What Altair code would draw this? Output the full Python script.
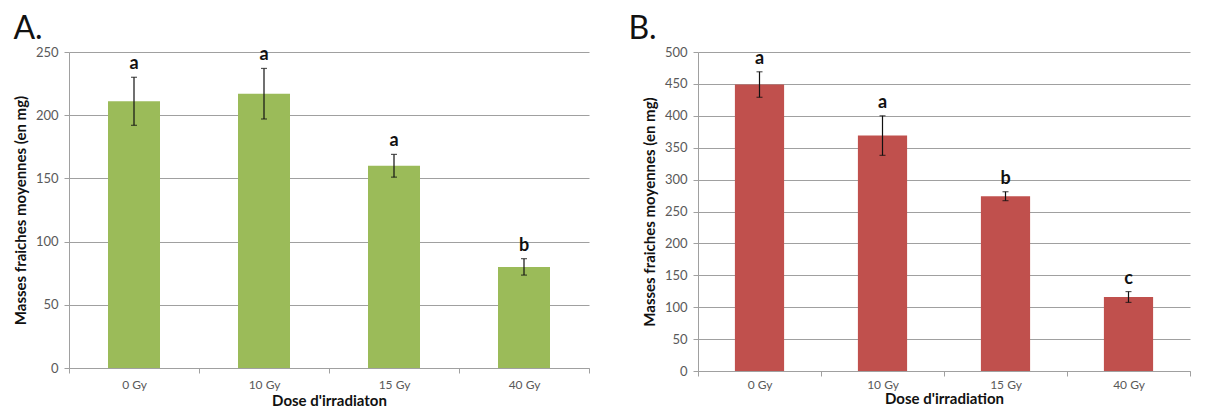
import altair as alt
import pandas as pd

doses = ["0 Gy", "10 Gy", "15 Gy", "40 Gy"]

mean_a = [211, 217, 160, 80]
err_a = [19, 20, 9, 6.5]
letters_a = ["a", "a", "a", "b"]
ticks_a = [0, 50, 100, 150, 200, 250]

mean_b = [449, 369, 274, 116]
err_b = [20, 31, 7, 8.5]
letters_b = ["a", "a", "b", "c"]
ticks_b = [0, 50, 100, 150, 200, 250, 300, 350, 400, 450, 500]

FONT = "Lato"
GRID = "#a0a0a0"
LABEL = "#595959"


def panel(mean, err, letters, ticks, color, xtitle, title, width, height, title_dx,
          xlabel_pad, xtitle_pad):
    df = pd.DataFrame({
        "dose": doses,
        "mean": mean,
        "lo": [m - e for m, e in zip(mean, err)],
        "hi": [m + e for m, e in zip(mean, err)],
        "letter": letters,
    })
    yscale = alt.Scale(domain=[ticks[0], ticks[-1]], nice=False)
    xscale = alt.Scale(paddingInner=0, paddingOuter=0)
    xaxis = alt.Axis(title=xtitle, tickBand="extent", labelAngle=0, grid=False,
                     domainColor=GRID, tickColor=GRID, tickSize=5,
                     labelColor=LABEL, labelFontSize=12, labelPadding=xlabel_pad,
                     titleFontSize=15, titleFontWeight="bold", titleColor="#111111",
                     titlePadding=xtitle_pad)
    yaxis = alt.Axis(title="Masses fraiches moyennes (en mg)", values=ticks,
                     labelOverlap=False,
                     grid=True, gridColor=GRID, gridWidth=1,
                     domainColor=GRID, tickColor=GRID, tickSize=5,
                     labelColor=LABEL, labelFontSize=13, labelPadding=6,
                     titleFontSize=15, titleFontWeight="bold", titleColor="#111111",
                     titlePadding=7)
    xc = alt.X("dose:N", sort=doses, scale=xscale, axis=xaxis)
    base = alt.Chart(df)
    bars = base.mark_bar(color=color, width=alt.RelativeBandSize(0.4)).encode(
        x=xc, y=alt.Y("mean:Q", scale=yscale, axis=yaxis))
    rule = base.mark_rule(color="#111111", strokeWidth=1.2).encode(
        x=xc, y=alt.Y("lo:Q", scale=yscale, axis=yaxis), y2="hi:Q")
    cap_hi = base.mark_tick(color="#111111", size=6, thickness=1.2).encode(
        x=xc, y=alt.Y("hi:Q", scale=yscale, axis=yaxis))
    cap_lo = base.mark_tick(color="#111111", size=6, thickness=1.2).encode(
        x=xc, y=alt.Y("lo:Q", scale=yscale, axis=yaxis))
    text = base.mark_text(fontWeight="bold", fontSize=18, baseline="bottom", dy=-4,
                          color="#111111", font=FONT).encode(
        x=xc, y=alt.Y("hi:Q", scale=yscale, axis=yaxis), text="letter:N")
    return alt.layer(bars, rule, cap_hi, cap_lo, text).properties(
        width=width, height=height,
        title=alt.TitleParams(title, anchor="start", frame="bounds", fontSize=32,
                              fontWeight="normal", font=FONT, color="#111111",
                              offset=0, dx=title_dx),
    )


chart_a = panel(mean_a, err_a, letters_a, ticks_a, "#9bbb59", "Dose d'irradiaton", "A.",
                520, 316, 0, 6, 3)
chart_b = panel(mean_b, err_b, letters_b, ticks_b, "#c0504d", "Dose d'irradiation", "B.",
                492, 319, -14, 3, 1)

chart = alt.hconcat(chart_a, chart_b, spacing=38).configure(
    font=FONT, background="white").configure_view(stroke=None)

chart.save("out.html", embed_options={"renderer": "svg", "actions": False})
